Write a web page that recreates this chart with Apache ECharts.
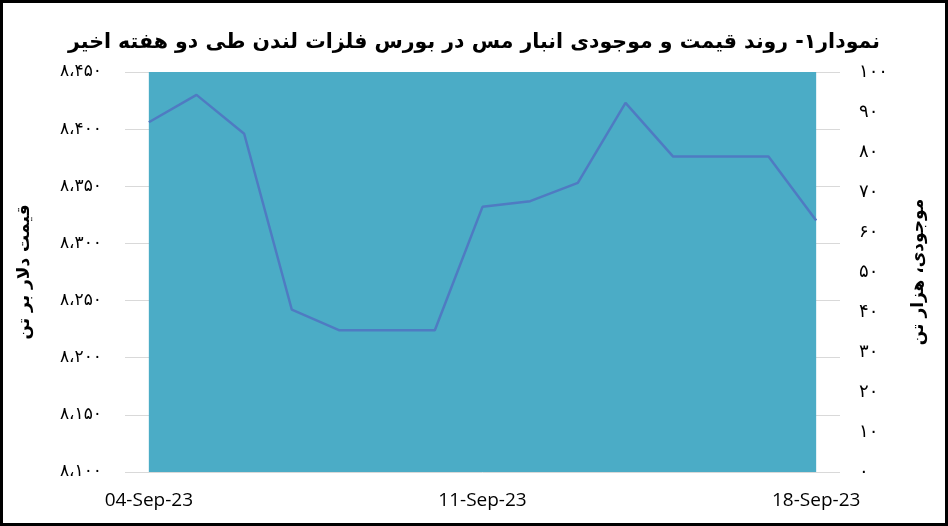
<!DOCTYPE html>
<html>
<head>
<meta charset="utf-8">
<script src="https://cdn.jsdelivr.net/npm/echarts@6/dist/echarts.min.js"></script>
<style>
html,body{margin:0;padding:0;background:#fff;}
#wrap{position:relative;width:948px;height:526px;}
#chart{position:absolute;left:0;top:0;width:948px;height:526px;}
#frame{position:absolute;left:0;top:0;width:948px;height:526px;box-sizing:border-box;border:3px solid #000;pointer-events:none;}
</style>
</head>
<body>
<div id="wrap"><div id="chart"></div><div id="frame"></div></div>
<script>
const titleText = 'نمودار۱- روند قیمت و موجودی انبار مس در بورس فلزات لندن طی دو هفته اخیر';
const leftAxisName = 'قیمت دلار بر تن';
const rightAxisName = 'موجودی، هزار تن';
const dates = ['04-Sep-23','05-Sep-23','06-Sep-23','07-Sep-23','08-Sep-23','09-Sep-23','10-Sep-23','11-Sep-23','12-Sep-23','13-Sep-23','14-Sep-23','15-Sep-23','16-Sep-23','17-Sep-23','18-Sep-23'];
const price = [8406, 8430, 8396, 8242, 8224, 8224, 8224, 8332, 8337, 8353, 8423, 8376, 8376, 8376, 8320];
const inventory = [100, 100, 100, 100, 100, 100, 100, 100, 100, 100, 100, 100, 100, 100, 100];
const leftTicks = [8100, 8150, 8200, 8250, 8300, 8350, 8400, 8450];
const leftTickLabels = ['۸،۱۰۰','۸،۱۵۰','۸،۲۰۰','۸،۲۵۰','۸،۳۰۰','۸،۳۵۰','۸،۴۰۰','۸،۴۵۰'];
const rightTicks = [0, 10, 20, 30, 40, 50, 60, 70, 80, 90, 100];
const rightTickLabels = ['۰','۱۰','۲۰','۳۰','۴۰','۵۰','۶۰','۷۰','۸۰','۹۰','۱۰۰'];

const chart = echarts.init(document.getElementById('chart'), null, {renderer:'canvas'});
const faFont = '"DejaVu Sans", "Noto Sans", sans-serif';
chart.setOption({
  animation: false,
  backgroundColor: '#fff',
  title: {
    text: titleText,
    left: 'center',
    top: 27,
    textStyle: {fontFamily: faFont, fontWeight: 'bold', fontSize: 20.5, color: '#000'}
  },
  grid: {left: 125, right: 108, top: 72, bottom: 54},
  xAxis: {
    type: 'category',
    data: dates,
    boundaryGap: true,
    axisLine: {show: false},
    axisTick: {show: false},
    axisLabel: {interval: 6, margin: 19, fontSize: 19, color: '#000', fontFamily: '"Open Sans", "Liberation Sans", sans-serif'}
  },
  yAxis: [
    {
      type: 'value', min: 8100, max: 8450, interval: 50,
      position: 'left',
      name: leftAxisName, nameLocation: 'middle', nameRotate: 90, nameGap: 92,
      nameTextStyle: {fontFamily: faFont, fontWeight: 'bold', fontSize: 17, color: '#000'},
      axisLine: {show: false}, axisTick: {show: false},
      splitLine: {show: true, lineStyle: {color: '#d9d9d9', width: 1}},
      axisLabel: {margin: 23, fontSize: 17, color: '#000', fontFamily: faFont,
        formatter: v => leftTickLabels[leftTicks.indexOf(v)] || ''}
    },
    {
      type: 'value', min: 0, max: 100, interval: 10,
      position: 'right',
      name: rightAxisName, nameLocation: 'middle', nameRotate: 90, nameGap: 70,
      nameTextStyle: {fontFamily: faFont, fontWeight: 'bold', fontSize: 17, color: '#000'},
      axisLine: {show: false}, axisTick: {show: false},
      splitLine: {show: false},
      axisLabel: {margin: 19, fontSize: 18, color: '#000', fontFamily: faFont,
        formatter: v => rightTickLabels[rightTicks.indexOf(v)] || ''}
    }
  ],
  series: [
    {
      name: 'موجودی',
      type: 'line',
      yAxisIndex: 1,
      data: inventory,
      symbol: 'none',
      lineStyle: {width: 0},
      areaStyle: {color: '#4bacc6', opacity: 1},
      z: 1
    },
    {
      name: 'قیمت',
      type: 'line',
      yAxisIndex: 0,
      data: price,
      symbol: 'none',
      lineStyle: {color: '#4f7bc2', width: 2.5},
      z: 3
    }
  ]
});
</script>
</body>
</html>
